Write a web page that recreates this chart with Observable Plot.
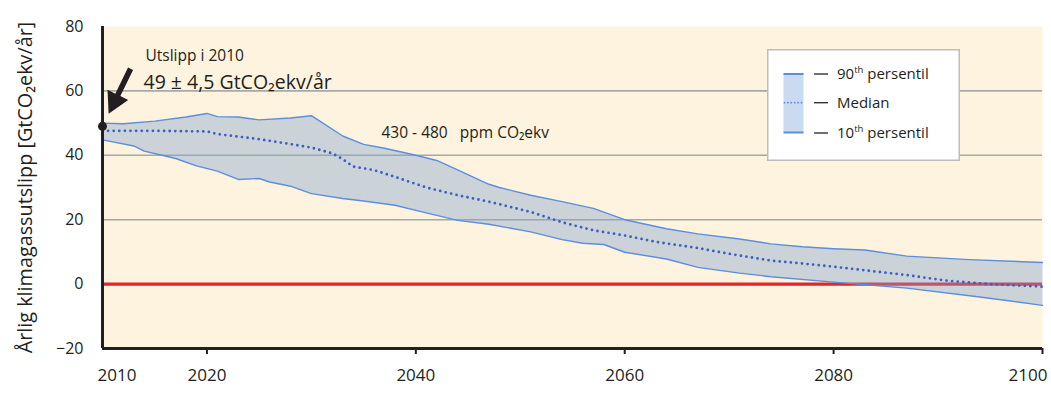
<!DOCTYPE html>
<html>
<head>
<meta charset="utf-8">
<script src="https://cdn.jsdelivr.net/npm/d3@7"></script>
<script src="https://cdn.jsdelivr.net/npm/@observablehq/plot@0.6"></script>
<style>
  body { margin: 0; background: #fff; }
  #wrap { position: relative; width: 1051px; height: 402px; font-family: "Open Sans", sans-serif; color: #231f20; }
</style>
</head>
<body>
<div id="wrap"></div>
<script>
// ---- data ----
const years90 = [2010,2012,2015,2018,2020,2021,2023,2025,2028,2030,2033,2035,2037,2040,2042,2044,2047,2048,2051,2054,2057,2060,2064,2067,2071,2074,2077,2080,2083,2087,2093,2100];
const p90     = [50,49.8,50.6,51.9,53,52,51.9,51,51.6,52.3,46,43.4,42.2,40,38.4,35.5,31,30,27.6,25.6,23.5,20,17.2,15.6,14,12.5,11.6,11,10.6,8.7,7.6,6.7];

const yearsMed = [2010,2015,2020,2021,2025,2027,2030,2032,2033,2034,2036,2038,2041,2044,2047,2051,2054,2057,2060,2063,2067,2070,2074,2077,2080,2087,2091,2095,2100];
const median   = [47.6,47.6,47.4,46.6,45,44,42.4,40.6,38.8,36.5,35.4,33.3,30,27.6,25.6,22.4,19.2,16.7,15.1,13.1,11.2,9.4,7.3,6.4,5.4,2.8,1,0,-0.8];

const years10 = [2010,2013,2014,2016,2017,2019,2021,2023,2025,2026,2028,2030,2033,2035,2038,2041,2044,2047,2051,2054,2056,2058,2060,2064,2067,2071,2074,2080,2087,2094,2100];
const p10     = [44.8,42.9,41.3,39.8,39,36.7,35.1,32.5,32.8,31.7,30.4,28.1,26.6,25.8,24.5,22.1,19.8,18.6,16.2,13.8,12.7,12.3,9.9,7.8,5.2,3.4,2.3,0.6,-1.25,-4,-6.6];

const emission2010 = [{year: 2010, value: 49}];
const xTicks = [2020, 2040, 2060, 2080, 2100];
const xMidLabels = [2020, 2040, 2060, 2080];
const xFirstLabel = [2010];
const xLastLabel = [2100];
const yTicks = [-20, 0, 20, 40, 60, 80];
const yGrid = [20, 40, 60];
const yLabel = "Årlig klimagassutslipp [GtCO₂ekv/år]";
const noteTitle = "Utslipp i 2010";
const noteValue = "49 ± 4,5 GtCO₂ekv/år";
const scenarioLabel = "430 - 480\u00a0\u00a0 ppm CO₂ekv";
const legendLabels = [["90", "th", " persentil"], ["Median", "", ""], ["10", "th", " persentil"]];

// ---- derived tables ----
const upper = years90.map((y, i) => ({year: y, value: p90[i]}));
const lower = years10.map((y, i) => ({year: y, value: p10[i]}));
const med = yearsMed.map((y, i) => ({year: y, value: median[i]}));
const band = upper.concat(lower.slice().reverse());

// filled arrow shape with a gap before the tip
const arrowShape = {
  draw(context, l) {
    const gap = 14, head = 21, half = 11.5, shaft = 2.8;
    const tip = -(l - gap), base = tip + head;
    context.moveTo(-shaft, 0);
    context.lineTo(-shaft, base);
    context.lineTo(-half, base);
    context.lineTo(0, tip);
    context.lineTo(half, base);
    context.lineTo(shaft, base);
    context.lineTo(shaft, 0);
    context.closePath();
  }
};

const ink = "#231f20";
const tickText = d => String(d);
const plot = Plot.plot({
  width: 1051,
  height: 402,
  marginLeft: 102,
  marginRight: 9,
  marginTop: 26,
  marginBottom: 54,
  style: {fontFamily: "'Open Sans', sans-serif", color: ink, background: "transparent", overflow: "visible"},
  x: {domain: [2010, 2100]},
  y: {domain: [-20, 80]},
  marks: [
    Plot.frame({fill: "#fdf3de", stroke: null}),
    Plot.ruleY(yGrid, {stroke: "#a8a8a8", strokeWidth: 1.6}),
    Plot.ruleY([0], {stroke: "#e5232a", strokeWidth: 3.2}),
    Plot.line(band, {x: "year", y: "value", fill: "#80a3d2", fillOpacity: 0.4, stroke: null}),
    Plot.line(upper, {x: "year", y: "value", stroke: "#5b8edd", strokeWidth: 1.4}),
    Plot.line(lower, {x: "year", y: "value", stroke: "#5b8edd", strokeWidth: 1.4}),
    Plot.line(med, {x: "year", y: "value", stroke: "#3b5fc2", strokeWidth: 2.8, strokeDasharray: "0,5.6", strokeLinecap: "round"}),
    Plot.ruleX([2010], {stroke: ink, strokeWidth: 3}),
    Plot.ruleY([-20], {stroke: ink, strokeWidth: 3}),
    Plot.axisY({ticks: yTicks, tickSize: 0, tickPadding: 19, fontSize: 16, label: null}),
    Plot.axisX({ticks: xTicks, tickSize: 6, tickPadding: 14, fontSize: 17, strokeWidth: 2, stroke: ink, tickFormat: d => xMidLabels.includes(d) ? String(d) : "", label: null}),
    Plot.text(xFirstLabel, {x: d => d, frameAnchor: "bottom", dy: 27, dx: -5, textAnchor: "start", lineAnchor: "middle", fontSize: 17, text: tickText, fill: ink}),
    Plot.text(xLastLabel, {x: d => d, frameAnchor: "bottom", dy: 27, dx: 5, textAnchor: "end", lineAnchor: "middle", fontSize: 17, text: tickText, fill: ink}),
    Plot.text([yLabel], {frameAnchor: "left", rotate: -90, dx: -77, fontSize: 19.8, textAnchor: "middle", lineAnchor: "middle", fill: ink}),
    Plot.text([noteTitle], {frameAnchor: "top-left", dx: 43, dy: 29.7, fontSize: 15.5, textAnchor: "start", lineAnchor: "middle", fill: ink}),
    Plot.text([noteValue], {frameAnchor: "top-left", dx: 41, dy: 56, fontSize: 19.5, textAnchor: "start", lineAnchor: "middle", fill: ink}),
    Plot.text([scenarioLabel], {frameAnchor: "top-left", dx: 279, dy: 106.5, fontSize: 15.5, textAnchor: "start", lineAnchor: "middle", fill: ink}),
    Plot.vector(emission2010, {x: "year", y: "value", rotate: 206, length: 64, anchor: "end", shape: arrowShape, fill: ink, stroke: null}),
    Plot.dot(emission2010, {x: "year", y: "value", r: 4.5, fill: ink, stroke: null})
  ]
});

const wrap = document.getElementById("wrap");
wrap.appendChild(plot);

// ---- legend (overlay) ----
const lg = d3.create("svg").attr("width", 194).attr("height", 113)
  .style("position", "absolute").style("left", "767px").style("top", "49px");
lg.append("rect").attr("x", 0.75).attr("y", 0.75).attr("width", 191.5).attr("height", 110.5)
  .attr("fill", "#fff").attr("stroke", "#bdbdbd").attr("stroke-width", 1.5);
lg.append("rect").attr("x", 16.5).attr("y", 25).attr("width", 20).attr("height", 58.5).attr("fill", "#c9daf1");
lg.append("line").attr("x1", 16.5).attr("x2", 36.5).attr("y1", 25).attr("y2", 25).attr("stroke", "#5b8edd").attr("stroke-width", 2);
lg.append("line").attr("x1", 16.5).attr("x2", 36.5).attr("y1", 83.5).attr("y2", 83.5).attr("stroke", "#5b8edd").attr("stroke-width", 2);
lg.append("line").attr("x1", 17.5).attr("x2", 36.5).attr("y1", 53.7).attr("y2", 53.7).attr("stroke", "#5b8edd")
  .attr("stroke-width", 1.8).attr("stroke-dasharray", "0,3.4").attr("stroke-linecap", "round");
const rowsY = [25, 53.7, 84];
legendLabels.forEach((parts, i) => {
  const y = rowsY[i];
  lg.append("line").attr("x1", 47).attr("x2", 61).attr("y1", y).attr("y2", y).attr("stroke", "#333").attr("stroke-width", 1.4);
  const t = lg.append("text").attr("x", 70).attr("y", y + 5.2).attr("font-size", 15).attr("fill", ink)
    .attr("font-family", "'Open Sans', sans-serif");
  t.append("tspan").text(parts[0]);
  if (parts[1]) t.append("tspan").attr("font-size", 9.5).attr("dy", -6).text(parts[1]);
  if (parts[2]) t.append("tspan").attr("dy", parts[1] ? 6 : 0).text(parts[2]);
});
wrap.appendChild(lg.node());
</script>
</body>
</html>
